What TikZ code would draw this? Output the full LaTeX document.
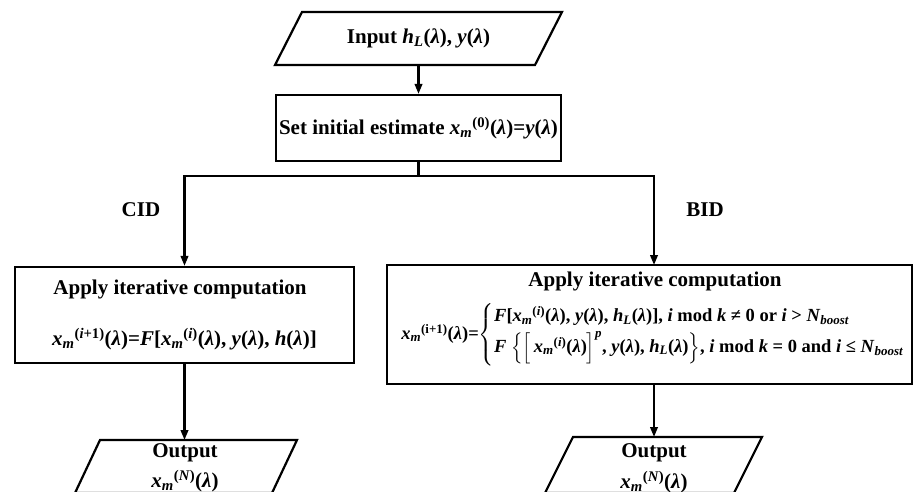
\documentclass[tikz,border=0pt]{standalone}
\usepackage{amsmath}
\usepackage{fontspec}
\setmainfont{Liberation Serif}
\usetikzlibrary{arrows.meta}
\newcommand{\parash}[2]{\draw[ln] ([xshift=#2]#1.north west) -- ([xshift=#2]#1.north east) -- ([xshift=-#2]#1.south east) -- ([xshift=-#2]#1.south west) -- cycle;}
\newcommand{\mylam}{(\textit{λ})}
\newcommand{\myxm}[1]{\textit{x}\textsubscript{\textit{m}}\textsuperscript{(#1)}}
\newcommand{\mysub}[2]{\textit{#1}\textsubscript{\textit{#2}}}
\begin{document}
\begin{tikzpicture}[x=1pt,y=-1pt,
  every node/.style={font=\fontsize{21}{24}\selectfont\bfseries\boldmath},
  shp/.style={draw,line width=2.2pt,inner sep=0pt},
  iobox/.style={inner sep=0pt,outer sep=0pt},
  txt/.style={inner sep=0pt,align=center},
  ln/.style={line width=2.2pt},
  arr/.style={ln,-{Triangle[length=10pt,width=7.5pt]}}]
\useasboundingbox (0,0) rectangle (913,492);
% shapes
\node[iobox,minimum width=260pt,minimum height=53pt] (in) at (418.5,38.5) {};
\parash{in}{13.5pt}
\node[shp,minimum width=285pt,minimum height=66pt] (set) at (418.5,128) {};
\node[shp,minimum width=339pt,minimum height=96pt] (lb) at (184.5,315) {};
\node[shp,minimum width=525pt,minimum height=119pt] (rb) at (649.5,324.5) {};
\node[iobox,minimum width=197pt,minimum height=53pt] (o1) at (186,466.5) {};
\parash{o1}{12.5pt}
\node[iobox,minimum width=189pt,minimum height=56pt] (o2) at (653.5,465) {};
\parash{o2}{14pt}
% texts
\node[txt] (tin) at (418.5,38.5) {Input \mysub{h}{L}\mylam, \textit{y}\mylam};
\node[txt] (tset) at (418.5,128) {Set initial estimate \myxm{0}\mylam=\textit{y}\mylam};
\node[txt] (tl1) at (180,289) {Apply iterative computation};
\node[txt] (tl2) at (184.5,339) {\myxm{\textit{i}+1}\mylam=\textit{F}[\myxm{\textit{i}}\mylam, \textit{y}\mylam, \textit{h}\mylam]};
\node[txt] (tr1) at (655,281) {Apply iterative computation};
\node[txt,font=\fontsize{18.5}{21}\selectfont\bfseries\boldmath] (tr2) at (653,335)
  {\myxm{i+1}\mylam=$\left\{\begin{tabular}{@{}l@{}}
   \textit{F}[\myxm{\textit{i}}\mylam, \textit{y}\mylam, \mysub{h}{L}\mylam], \textit{i} mod \textit{k} ≠ 0 or \textit{i} > \mysub{N}{boost}\\[3pt]
   \textit{F} $\Big\{\Big[$\,\myxm{\textit{i}}\mylam$\Big]^{\textit{p}}$, \textit{y}\mylam, \mysub{h}{L}\mylam$\Big\}$, \textit{i} mod \textit{k} = 0 and \textit{i} ≤ \mysub{N}{boost}
   \end{tabular}\right.$};
\node[txt] (to1a) at (185,453) {Output};
\node[txt] (to1b) at (185,481) {\myxm{\textit{N}}\mylam};
\node[txt] (to2a) at (654,453) {Output};
\node[txt] (to2b) at (654,482) {\myxm{\textit{N}}\mylam};
\node[txt] (cid) at (141,210) {CID};
\node[txt] (bid) at (705,210) {BID};
% connectors
\coordinate (j) at (418.5,176);
\coordinate (rt) at (654,265);
\draw[arr] (in.south) -- (set.north);
\draw[ln] (set.south) -- (j);
\draw[arr] (j) -| (lb.north);
\draw[arr] (j) -| (rt);
\draw[arr] (lb.south) -- (lb.south |- o1.north);
\draw[arr] (rt |- rb.south) -- (rt |- o2.north);
\end{tikzpicture}
\end{document}
